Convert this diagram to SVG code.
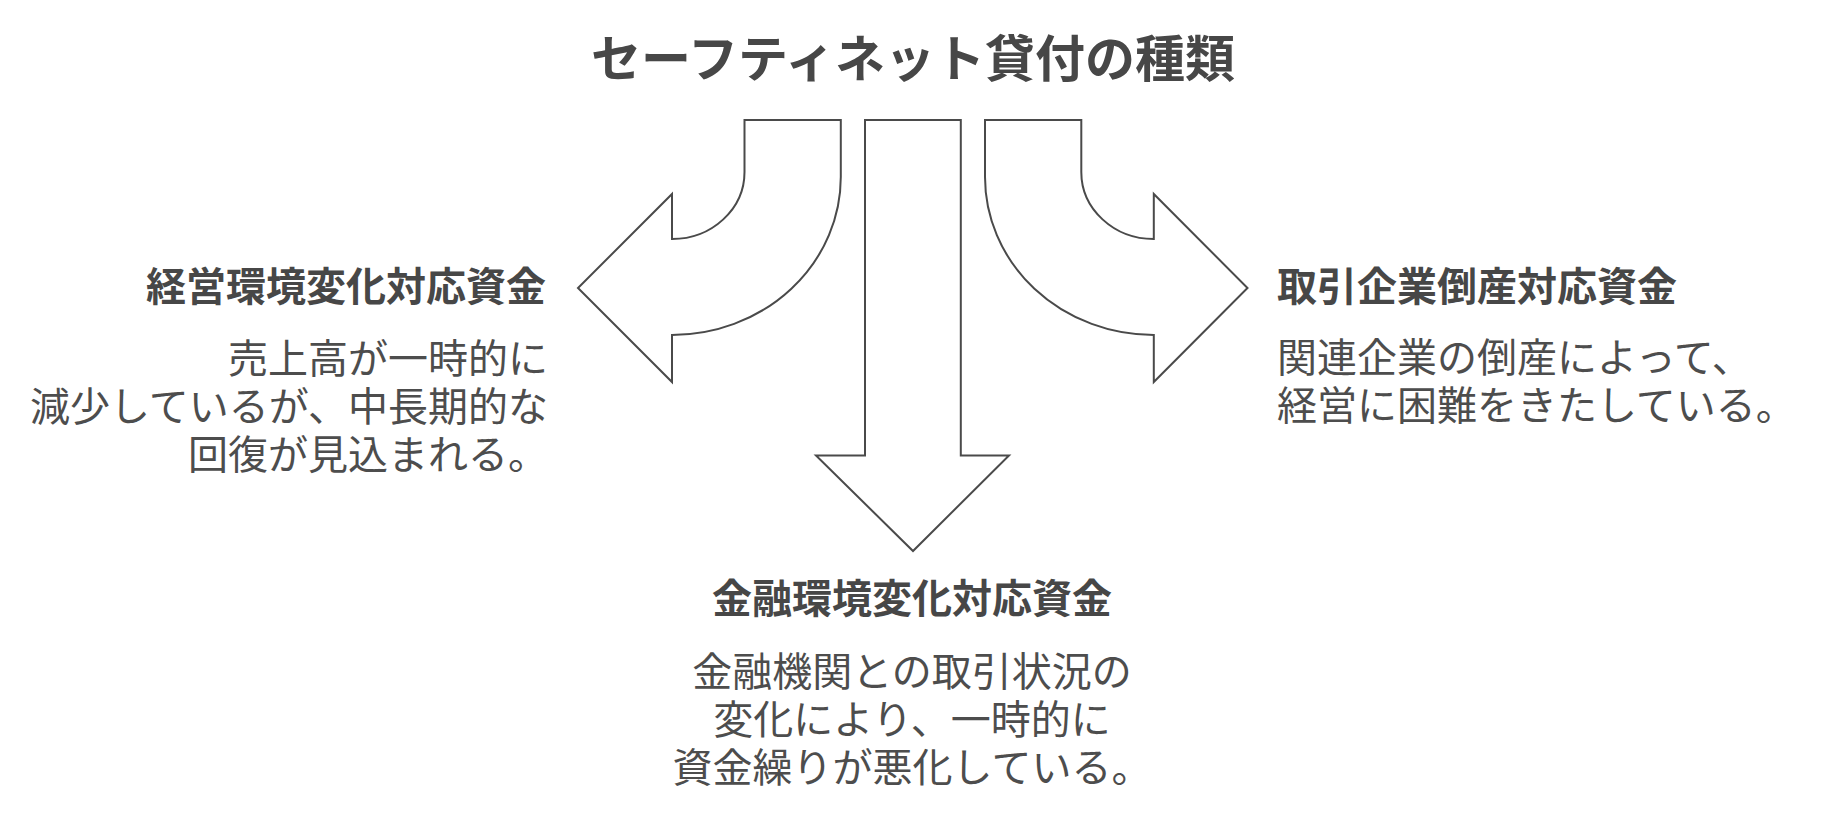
<svg xmlns="http://www.w3.org/2000/svg" width="1824" height="816" viewBox="0 0 1824 816">
<style>
.arrow{fill:#ffffff;stroke:#4a4a4a;stroke-width:2;stroke-linejoin:miter}
.title{font-family:"Noto Sans CJK JP","Noto Sans",sans-serif;font-weight:700;font-size:50px;fill:#474747}
.head{font-family:"Noto Sans CJK JP","Noto Sans",sans-serif;font-weight:700;font-size:40px;fill:#474747}
.body{font-family:"Noto Sans CJK JP","Noto Sans",sans-serif;font-weight:400;font-size:40px;fill:#4d4d4d}
</style>
<rect width="1824" height="816" fill="#ffffff"/>
<text class="title" x="913" y="77" text-anchor="middle">セーフティネット貸付の種類</text>
<g id="connectors">
<path id="arrow-left" class="arrow" d="M744.5,120 L840.8,120 L840.8,177 A168.8,158 0 0 1 672,335 L672,382 L578,288 L672,194 L672,239 A72.5,67 0 0 0 744.5,172 Z"/>
<path id="arrow-center" class="arrow" d="M865,120 L960.8,120 L960.8,455.5 L1009,455.5 L913,551 L816,455.5 L865,455.5 Z"/>
<path id="arrow-right" class="arrow" d="M1081.3,120 L985,120 L985,177 A168.8,158 0 0 0 1153.8,335 L1153.8,382 L1247.5,288 L1153.8,194 L1153.8,239 A72.5,67 0 0 1 1081.3,172 Z"/>
</g>
<g id="node-left">
<text class="head" x="546" y="301" text-anchor="end">経営環境変化対応資金</text>
<text class="body" x="548" y="373" text-anchor="end">売上高が一時的に</text>
<text class="body" x="548" y="421" text-anchor="end">減少しているが、中長期的な</text>
<text class="body" x="548" y="469" text-anchor="end">回復が見込まれる。</text>
</g>
<g id="node-right">
<text class="head" x="1277" y="301">取引企業倒産対応資金</text>
<text class="body" x="1277" y="372">関連企業の倒産によって、</text>
<text class="body" x="1277" y="420">経営に困難をきたしている。</text>
</g>
<g id="node-bottom">
<text class="head" x="912" y="613" text-anchor="middle">金融環境変化対応資金</text>
<text class="body" x="912" y="686" text-anchor="middle">金融機関との取引状況の</text>
<text class="body" x="912" y="734" text-anchor="middle">変化により、一時的に</text>
<text class="body" x="912" y="782" text-anchor="middle">資金繰りが悪化している。</text>
</g>
</svg>
